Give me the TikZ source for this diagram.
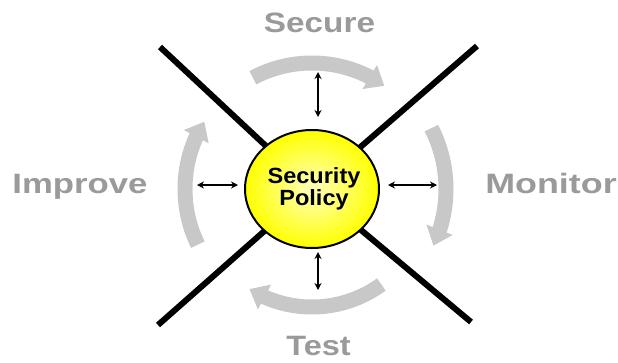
\documentclass[tikz,border=0pt]{standalone}
\usepackage{fontspec}
\setmainfont{Liberation Sans}
\usetikzlibrary{arrows.meta,bending,shapes.geometric}
\definecolor{labelgray}{HTML}{9A9A9A}
\definecolor{cyclegray}{HTML}{C8C8C8}
\definecolor{hubyellow}{HTML}{FFFF00}
\tikzset{
  phase/.style={text=labelgray, font=\fontsize{28}{28}\selectfont\bfseries, anchor=base, inner sep=0pt},
  hubtext/.style={text=black, font=\fontsize{22}{22}\selectfont\bfseries, anchor=base, inner sep=0pt},
  cross/.style={line width=6pt, black},
  cyclearc/.style={line width=15pt, cyclegray, -{Triangle[width=27pt,length=17pt,flex]}},
  link/.style={line width=1.4pt, black, {Stealth[length=7pt,width=7pt]}-{Stealth[length=7pt,width=7pt]}},
  hub/.style={ellipse, draw=black, line width=2pt, minimum width=134pt, minimum height=118pt,
    inner sep=0pt, shading=radial, inner color=hubyellow!25!white, outer color=hubyellow}
}
\begin{document}
\begin{tikzpicture}[x=1pt,y=1pt]
\fill[white] (0,0) rectangle (618,-362);
\useasboundingbox (0,0) rectangle (618,-362);

% ends of the crossing bars
\coordinate (tl) at (160,-47);
\coordinate (tr) at (477,-46);
\coordinate (bl) at (158,-325);
\coordinate (br) at (471,-322);
\coordinate (c) at (312,-189);

\draw[cross] (tl) -- (c);
\draw[cross] (tr) -- (c);
\draw[cross] (bl) -- (c);
\draw[cross] (br) -- (c);

% central policy hub
\node[hub] (policy) at (c) {};
\node[hubtext] (sec) at (314,-183) {\scalebox{1.07}[1]{Security}};
\node[hubtext] (pol) at (314,-205) {\scalebox{1.07}[1]{Policy}};

% clockwise cycle arrows
\draw[cyclearc] ([shift={(118:126pt)}]c) arc[start angle=118, end angle=55, radius=126pt];
\draw[cyclearc] ([shift={(27:134pt)}]c) arc[start angle=27, end angle=-25, radius=134pt];
\draw[cyclearc] ([shift={(-54:118pt)}]c) arc[start angle=-54, end angle=-122, radius=118pt];
\draw[cyclearc] ([shift={(206:127pt)}]c) arc[start angle=206, end angle=148, radius=127pt];

% two-way links between hub and phases
\coordinate (ut) at (318,-72);  \coordinate (ub) at (318,-117);
\coordinate (dt) at (318,-252); \coordinate (db) at (318,-290);
\coordinate (ll) at (197,-185); \coordinate (lr) at (238,-185);
\coordinate (rl) at (388,-185); \coordinate (rr) at (437,-185);
\draw[link] (ut) -- (ub);
\draw[link] (dt) -- (db);
\draw[link] (ll) -- (lr);
\draw[link] (rl) -- (rr);

% phase labels
\node[phase] (secure) at (319.5,-32) {\scalebox{1.19}[1]{Secure}};
\node[phase] (monitor) at (551,-193) {\scalebox{1.28}[1]{Monitor}};
\node[phase] (test) at (318.5,-355) {\scalebox{1.16}[1]{Test}};
\node[phase] (improve) at (80,-193) {\scalebox{1.24}[1]{Improve}};
\end{tikzpicture}
\end{document}
